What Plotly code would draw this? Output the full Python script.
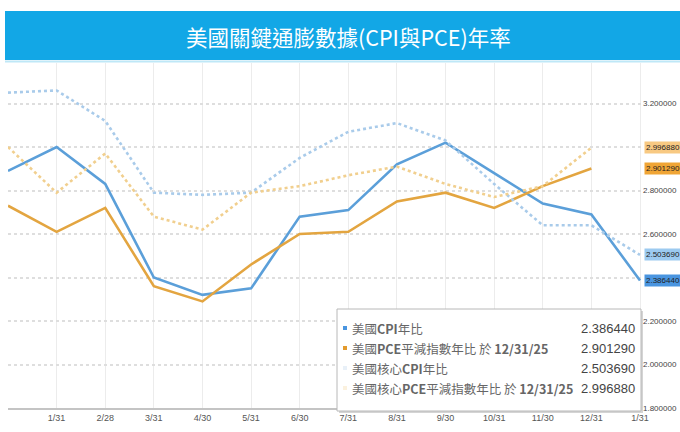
import plotly.graph_objects as go

# Month-end labels (Dec 2024 through Jan 2026)
months = ["12/31", "1/31", "2/28", "3/31", "4/30", "5/31", "6/30",
          "7/31", "8/31", "9/30", "10/31", "11/30", "12/31", "1/31"]
tick_labels = [""] + months[1:]

# Year-over-year rates, %
cpi = [2.89, 3.00, 2.83, 2.40, 2.32, 2.35, 2.68, 2.71, 2.92, 3.02, 2.88, 2.74, 2.69, 2.386440]
pce = [2.73, 2.61, 2.72, 2.36, 2.29, 2.46, 2.60, 2.61, 2.75, 2.79, 2.72, 2.82, 2.901290, None]
core_cpi = [3.25, 3.26, 3.12, 2.79, 2.78, 2.79, 2.95, 3.07, 3.11, 3.03, 2.83, 2.64, 2.64, 2.503690]
core_pce = [3.00, 2.79, 2.97, 2.68, 2.62, 2.79, 2.82, 2.87, 2.91, 2.83, 2.77, 2.82, 2.996880, None]

# Right-axis ticks; 3.0 and 2.4 sit under the latest-value badges
y_ticks = [1.8, 2.0, 2.2, 2.4, 2.6, 2.8, 3.0, 3.2]
y_hidden = [2.4, 3.0]

names = ["美國CPI年比", "美國PCE平減指數年比 於 12/31/25",
         "美國核心CPI年比", "美國核心PCE平減指數年比 於 12/31/25"]
legend_html = ["美國<b>CPI</b>年比",
               "美國<b>PCE</b>平減指數年比 於 <b>12/31/25</b>",
               "美國核心<b>CPI</b>年比",
               "美國核心<b>PCE</b>平減指數年比 於 <b>12/31/25</b>"]
line_colors = ["#5b9fd9", "#e3a540", "#a9cbea", "#f1cf8e"]
badge_colors = ["#4a95e0", "#f0a535", "#9ccaf0", "#f8c982"]
marker_colors = ["#4a95e0", "#e39a2c", "#e8f0f8", "#fbf1de"]
dashes = ["solid", "solid", "dot", "dot"]
series = [cpi, pce, core_cpi, core_pce]

W, H = 680, 432
L, R, T, B = 8, 38, 63, 24
PW, PH = W - L - R, H - T - B
X_STEP = 632 / 13  # pixels per month

def px_x(p):
    return (p - L) / PW

def px_y(p):
    return (H - B - p) / PH

def last_value(vals):
    return [v for v in vals if v is not None][-1]

x_idx = list(range(len(months)))

fig = go.Figure()
for vals, name, color, dash in zip(series, names, line_colors, dashes):
    fig.add_trace(go.Scatter(
        x=x_idx, y=vals, mode="lines", name=name,
        line=dict(color=color, width=2.6, dash=dash),
        connectgaps=False, showlegend=False,
    ))

fig.update_layout(
    width=W, height=H,
    margin=dict(l=L, r=R, t=T, b=B),
    paper_bgcolor="white", plot_bgcolor="white",
    font=dict(family="Liberation Sans, Noto Sans CJK TC", color="#555"),
    xaxis=dict(
        range=[0, PW / X_STEP], tickmode="array", tickvals=x_idx, ticktext=tick_labels,
        showgrid=True, gridcolor="#ececec", gridwidth=1,
        showline=True, linecolor="#c4c4c4", linewidth=1.5,
        ticks="", tickfont=dict(size=9, color="#555"), zeroline=False,
        automargin=False, fixedrange=True,
    ),
    yaxis=dict(
        range=[1.8, 1.8 + PH / 217.5], side="right", tickmode="array",
        tickvals=y_ticks,
        ticktext=["" if v in y_hidden else f"{v:.6f}" for v in y_ticks],
        showgrid=True, gridcolor="#dedede", gridwidth=2, griddash="dot",
        tickfont=dict(size=8, color="#444"), zeroline=False, ticks="",
        automargin=False, fixedrange=True,
    ),
)

shapes = []
annotations = []

# Title band
shapes.append(dict(type="rect", xref="paper", yref="paper",
                   x0=px_x(5), x1=px_x(682), y0=px_y(60), y1=px_y(11),
                   fillcolor="#12a7e6", line=dict(width=0), layer="above"))
shapes.append(dict(type="line", xref="paper", yref="paper",
                   x0=px_x(5), x1=px_x(682), y0=px_y(61.5), y1=px_y(61.5),
                   line=dict(color="#bfe8f7", width=2), layer="above"))
annotations.append(dict(xref="paper", yref="paper", x=px_x(348), y=px_y(36),
                        text="美國關鍵通膨數據(CPI與PCE)年率", showarrow=False,
                        font=dict(family="Noto Sans CJK TC", size=21.5, color="white"),
                        xanchor="center", yanchor="middle"))

# Latest-value badges on the right axis
for vals, bcolor in zip(series, badge_colors):
    v = last_value(vals)
    annotations.append(dict(xref="paper", yref="y", x=1.0, y=v, xshift=2,
                            text=f"{v:.6f}", showarrow=False, xanchor="left",
                            yanchor="middle", bgcolor=bcolor, borderpad=1,
                            font=dict(size=8, color="#222")))

# Legend box with final values
shapes.append(dict(type="rect", xref="paper", yref="paper",
                   x0=px_x(339), x1=px_x(643), y0=px_y(413), y1=px_y(311),
                   fillcolor="#d4d4d4", line=dict(width=0), layer="above"))
shapes.append(dict(type="rect", xref="paper", yref="paper",
                   x0=px_x(337), x1=px_x(641), y0=px_y(411), y1=px_y(309),
                   fillcolor="white", line=dict(color="#b8b8b8", width=1),
                   layer="above"))
row_y = [328, 348, 368, 388]
for vals, label, mcolor, ry in zip(series, legend_html, marker_colors, row_y):
    shapes.append(dict(type="rect", xref="paper", yref="paper",
                       x0=px_x(343), x1=px_x(347), y0=px_y(ry + 2), y1=px_y(ry - 2),
                       fillcolor=mcolor, line=dict(width=0), layer="above"))
    annotations.append(dict(xref="paper", yref="paper", x=px_x(350), y=px_y(ry),
                            text=label, showarrow=False, xanchor="left",
                            yanchor="middle",
                            font=dict(family="Noto Sans CJK TC", size=12.5,
                                      color="#666")))
    annotations.append(dict(xref="paper", yref="paper", x=px_x(637), y=px_y(ry),
                            text=f"{last_value(vals):.6f}", showarrow=False,
                            xanchor="right", yanchor="middle",
                            font=dict(family="Liberation Sans", size=13,
                                      color="#444")))

fig.update_layout(shapes=shapes, annotations=annotations)
fig.write_html("out.html")
